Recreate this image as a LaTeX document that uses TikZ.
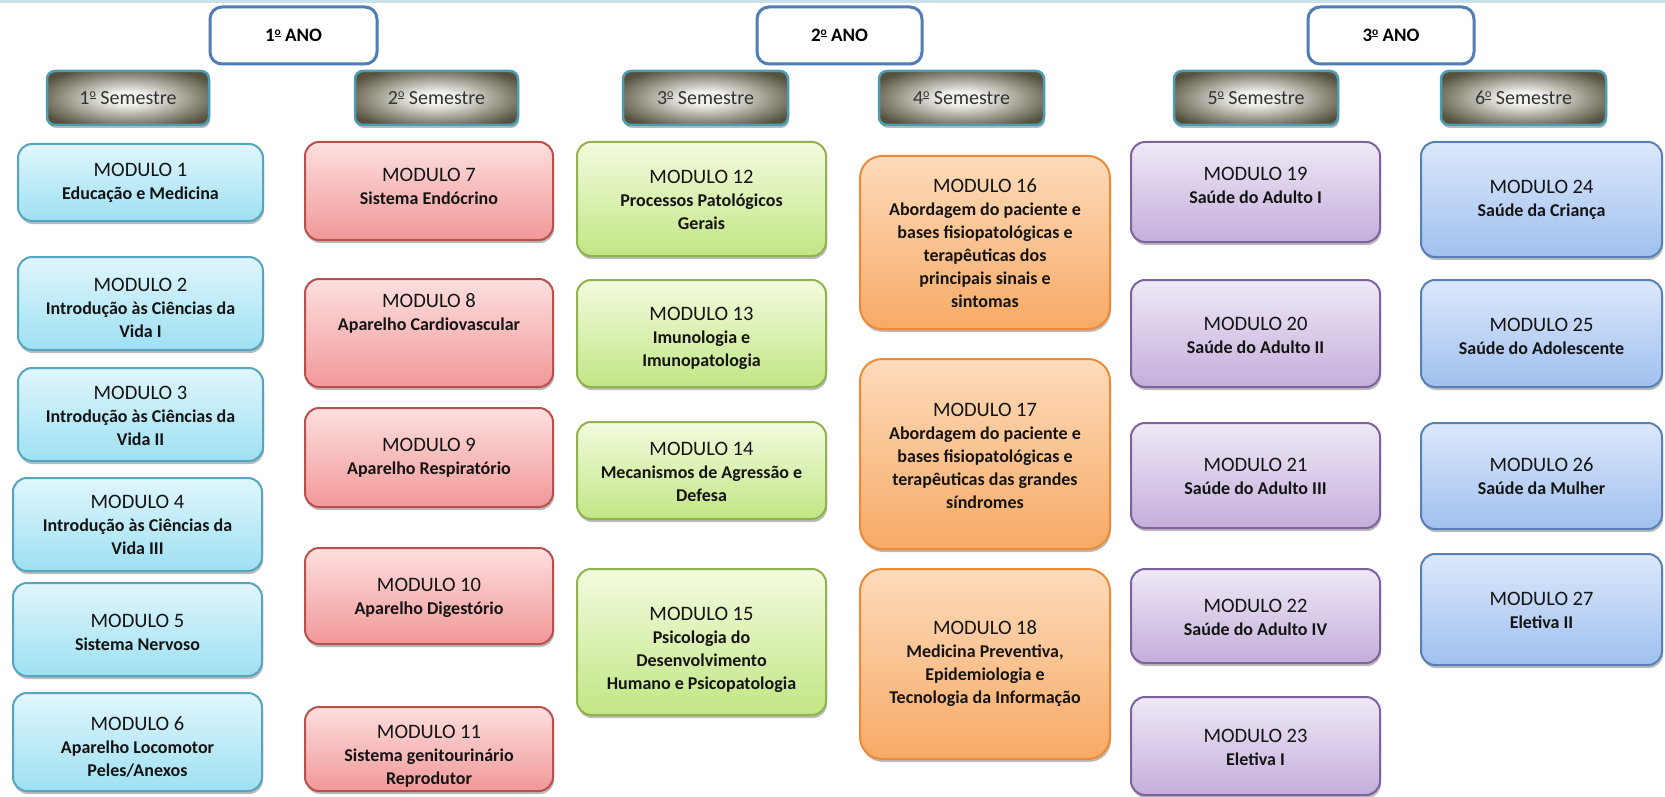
\documentclass[tikz,border=0pt]{standalone}
\usepackage{fontspec}
\setmainfont{Carlito}
\usetikzlibrary{shadows}
\definecolor{topline}{HTML}{C9E0E9}
\definecolor{anoB}{HTML}{4F7DB5}
\definecolor{semB}{HTML}{4A9DB2}
\definecolor{semL}{HTML}{F2F1EC}
\definecolor{semD}{HTML}{55513D}
\definecolor{semT}{HTML}{333333}
\definecolor{txt}{HTML}{141414}
\definecolor{aB}{HTML}{55A5C0}\definecolor{aT}{HTML}{E0F6FC}\definecolor{aD}{HTML}{9EE0F2}
\definecolor{bB}{HTML}{B8504C}\definecolor{bT}{HTML}{FDDFDF}\definecolor{bD}{HTML}{F19898}
\definecolor{cB}{HTML}{90B34E}\definecolor{cT}{HTML}{F3FBDF}\definecolor{cD}{HTML}{C2E684}
\definecolor{dB}{HTML}{EC8A38}\definecolor{dT}{HTML}{FDDBBB}\definecolor{dD}{HTML}{F7AA66}
\definecolor{eB}{HTML}{7C639E}\definecolor{eT}{HTML}{EFE9F7}\definecolor{eD}{HTML}{C4AEDA}
\definecolor{fB}{HTML}{5780B6}\definecolor{fT}{HTML}{DCE8FB}\definecolor{fD}{HTML}{A0C0EE}
\pgfdeclareradialshading{semshade}{\pgfpoint{0bp}{0bp}}{color(0bp)=(semL); color(6bp)=(semL); color(30bp)=(semD); color(50bp)=(semD)}
\newcommand\ordo{\raisebox{.72ex}{\scalebox{.6}{\underline{o}}}}
\tikzset{
  shad/.style={drop shadow={shadow xshift=1pt, shadow yshift=-3pt, opacity=0.45, fill=black!60}},
  base/.style={rectangle, rounded corners=14pt, line width=2pt, shad},
  c1/.style={base, draw=aB, top color=aT, bottom color=aD},
  c2/.style={base, draw=bB, top color=bT, bottom color=bD},
  c3/.style={base, draw=cB, top color=cT, bottom color=cD},
  c4/.style={base, rounded corners=22pt, draw=dB, top color=dT, bottom color=dD},
  c5/.style={base, draw=eB, top color=eT, bottom color=eD},
  c6/.style={base, draw=fB, top color=fT, bottom color=fD},
  ano/.style={rectangle, rounded corners=12pt, draw=anoB, line width=3pt, fill=white,
    minimum height=57, font=\bfseries\fontsize{19}{20}\selectfont, text=black},
  sem/.style={rectangle, rounded corners=8pt, draw=semB, line width=2.5pt, shade, shading=semshade,
    shad, minimum height=54, font=\fontsize{20}{22}\selectfont, text=semT},
  modtext/.style={align=center, font=\bfseries\fontsize{18}{23}\selectfont, text=txt, inner sep=0pt},
}
\newcommand\modbox[8]{%
  \node[#2, minimum width=#5-#3, minimum height=#6-#4] (m#1) at ({(#3+#5)/2},{(#4+#6)/2}) {};
  \node[modtext] (m#1t) at ({(#3+#5)/2},#7) {{\mdseries\fontsize{20.5}{23}\selectfont MODULO #1}\\#8};
}
\begin{document}
\begin{tikzpicture}[x=1pt,y=-1pt]
\useasboundingbox (0,0) rectangle (1665,797);
\fill[white] (0,0) rectangle (1665,797);
\coordinate (tl) at (0,1.5);
\coordinate (tr) at (1665,1.5);
\draw[topline, line width=2.5pt] (tl) -- (tr);
% year boxes
\node[ano, minimum width=167] (ano1) at (293.5,35.5) {1\ordo{} ANO};
\node[ano, minimum width=165] (ano2) at (839.5,35.5) {2\ordo{} ANO};
\node[ano, minimum width=166] (ano3) at (1391,35.5) {3\ordo{} ANO};
% semester boxes
\node[sem, minimum width=162] (s1) at (128,98) {1\ordo{} Semestre};
\node[sem, minimum width=163] (s2) at (436.5,98) {2\ordo{} Semestre};
\node[sem, minimum width=165] (s3) at (705.5,98) {3\ordo{} Semestre};
\node[sem, minimum width=165] (s4) at (961.5,98) {4\ordo{} Semestre};
\node[sem, minimum width=164] (s5) at (1256,98) {5\ordo{} Semestre};
\node[sem, minimum width=165] (s6) at (1523.5,98) {6\ordo{} Semestre};
% column 1
\modbox{1}{c1}{18}{144}{263}{221}{183}{Educação e Medicina}
\modbox{2}{c1}{18}{257}{263}{350}{308}{Introdução às Ciências da\\Vida I}
\modbox{3}{c1}{18}{368}{263}{461}{416}{Introdução às Ciências da\\Vida II}
\modbox{4}{c1}{13}{478}{262}{571}{525}{Introdução às Ciências da\\Vida III}
\modbox{5}{c1}{13}{583}{262}{676}{632}{Sistema Nervoso}
\modbox{6}{c1}{13}{693}{262}{791}{747}{Aparelho Locomotor\\Peles/Anexos}
% column 2
\modbox{7}{c2}{305}{142}{553}{240}{186}{Sistema Endócrino}
\modbox{8}{c2}{305}{279}{553}{387}{313}{Aparelho Cardiovascular}
\modbox{9}{c2}{305}{408}{553}{507}{458}{Aparelho Respiratório}
\modbox{10}{c2}{305}{548}{553}{644}{598}{Aparelho Digestório}
\modbox{11}{c2}{305}{707}{553}{791}{756}{Sistema genitourinário\\Reprodutor}
% column 3
\modbox{12}{c3}{577}{142}{826}{256}{200}{Processos Patológicos\\Gerais}
\modbox{13}{c3}{577}{280}{826}{387}{338}{Imunologia e\\Imunopatologia}
\modbox{14}{c3}{577}{422}{826}{519}{472}{Mecanismos de Agressão e\\Defesa}
\modbox{15}{c3}{577}{569}{826}{715}{650}{Psicologia do\\Desenvolvimento\\Humano e Psicopatologia}
% column 4
\modbox{16}{c4}{860}{156}{1110}{329}{243}{Abordagem do paciente e\\bases fisiopatológicas e\\terapêuticas dos\\principais sinais e\\sintomas}
\modbox{17}{c4}{860}{359}{1110}{549}{456}{Abordagem do paciente e\\bases fisiopatológicas e\\terapêuticas das grandes\\síndromes}
\modbox{18}{c4}{860}{569}{1110}{759}{664}{Medicina Preventiva,\\Epidemiologia e\\Tecnologia da Informação}
% column 5
\modbox{19}{c5}{1131}{142}{1380}{242}{185}{Saúde do Adulto I}
\modbox{20}{c5}{1131}{280}{1380}{387}{335}{Saúde do Adulto II}
\modbox{21}{c5}{1131}{423}{1380}{528}{476}{Saúde do Adulto III}
\modbox{22}{c5}{1131}{569}{1380}{663}{617}{Saúde do Adulto IV}
\modbox{23}{c5}{1131}{697}{1380}{795}{747}{Eletiva I}
% column 6
\modbox{24}{c6}{1421}{142}{1662}{257}{200}{Saúde da Criança}
\modbox{25}{c6}{1421}{280}{1662}{387}{336}{Saúde do Adolescente}
\modbox{26}{c6}{1421}{423}{1662}{529}{476}{Saúde da Mulher}
\modbox{27}{c6}{1421}{554}{1662}{665}{610}{Eletiva II}
\end{tikzpicture}
\end{document}
